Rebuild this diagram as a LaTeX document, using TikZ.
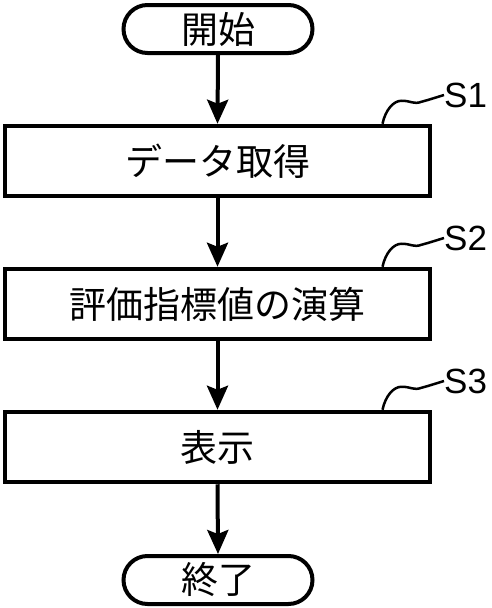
\documentclass[tikz,border=0pt]{standalone}
\usepackage{fontspec}
\setmainfont{Liberation Sans}
\newfontfamily\cjk{Noto Sans CJK JP}
\usetikzlibrary{arrows.meta}
\begin{document}
\begin{tikzpicture}[x=1pt,y=-1pt,
  stepbox/.style={draw=black,line width=4.5pt,minimum width=425pt,minimum height=70pt,inner sep=0pt,font=\cjk\fontsize{37}{40}\selectfont},
  termbox/.style={draw=black,line width=4pt,rounded corners=24pt,minimum width=189pt,minimum height=48pt,inner sep=0pt,font=\cjk\fontsize{37}{40}\selectfont},
  flow/.style={line width=4pt,-{Stealth[length=24pt,width=21pt,inset=4pt]}},
  tag/.style={line width=2.5pt},
  taglabel/.style={font=\fontsize{35}{38}\selectfont,inner sep=0pt,anchor=west}]
\useasboundingbox (0,0) rectangle (492,608);
\fill[white] (0,0) rectangle (492,608);
\node[termbox] (start) at (218,29) {開始};
\node[stepbox] (s1) at (217.5,161) {データ取得};
\node[stepbox] (s2) at (217.5,304) {評価指標値の演算};
\node[stepbox] (s3) at (217.5,447) {表示};
\node[termbox] (end) at (218,580) {終了};
\draw[flow] (start.south) -- (s1.north);
\draw[flow] (s1.south) -- (s2.north);
\draw[flow] (s2.south) -- (s3.north);
\draw[flow] (s3.south) -- (end.north);
\node[taglabel] (l1) at (444,95) {S1};
\node[taglabel] (l2) at (444,238) {S2};
\node[taglabel] (l3) at (444,381) {S3};
\foreach \s/\l in {s1/l1,s2/l2,s3/l3}{
  \coordinate (a) at ([xshift=165pt]\s.north);
  \draw[tag] (a) .. controls +(3,-14) and +(-8,0) .. ++(19,-23)
     .. controls +(10,0) and +(-8,3) .. ++(20,1)
     .. controls +(4,-1) .. (\l.west);
}
\end{tikzpicture}
\end{document}
